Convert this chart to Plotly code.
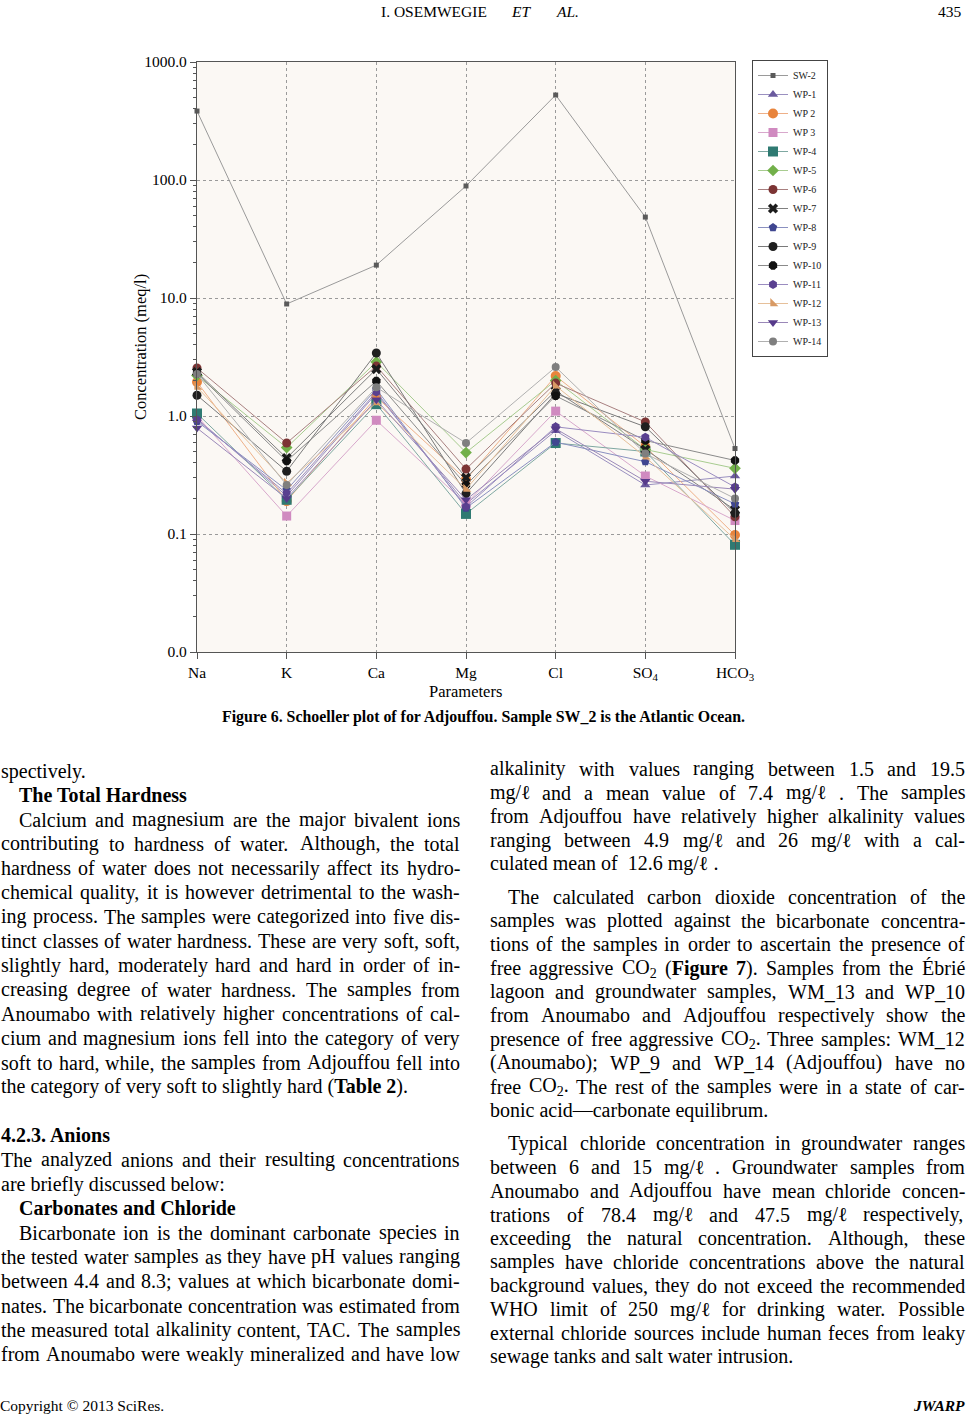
import re
import plotly.graph_objects as go

# ---------------- data ----------------
categories = ["Na", "K", "Ca", "Mg", "Cl", "SO<sub>4</sub>", "HCO<sub>3</sub>"]
series_names = ["SW-2", "WP-1", "WP 2", "WP 3", "WP-4", "WP-5", "WP-6", "WP-7",
                "WP-8", "WP-9", "WP-10", "WP-11", "WP-12", "WP-13", "WP-14"]
SW_2 = [384, 8.9, 19.0, 89, 525, 48.5, 0.53]
WP_1 = [0.95, 0.21, 1.55, 0.18, 0.75, 0.26, 0.31]
WP_2 = [1.94, 0.19, 1.45, 0.29, 2.18, 0.55, 0.098]
WP_3 = [1.00, 0.142, 0.92, 0.18, 1.10, 0.31, 0.13]
WP_4 = [1.05, 0.195, 1.26, 0.148, 0.59, 0.50, 0.081]
WP_5 = [2.20, 0.54, 2.87, 0.49, 2.00, 0.52, 0.36]
WP_6 = [2.55, 0.59, 2.65, 0.355, 1.90, 0.89, 0.14]
WP_7 = [2.36, 0.44, 2.50, 0.30, 1.63, 0.52, 0.16]
WP_8 = [0.90, 0.236, 1.69, 0.166, 0.60, 0.41, 0.18]
WP_9 = [1.50, 0.34, 3.42, 0.22, 1.55, 0.81, 0.15]
WP_10 = [2.30, 0.415, 1.98, 0.26, 1.48, 0.62, 0.42]
WP_11 = [0.93, 0.22, 1.60, 0.17, 0.81, 0.66, 0.25]
WP_12 = [1.76, 0.27, 1.30, 0.24, 1.80, 0.45, 0.09]
WP_13 = [0.79, 0.20, 1.37, 0.195, 0.78, 0.28, 0.24]
WP_14 = [2.27, 0.26, 1.75, 0.59, 2.60, 0.48, 0.20]
series_values = [SW_2, WP_1, WP_2, WP_3, WP_4, WP_5, WP_6, WP_7,
                 WP_8, WP_9, WP_10, WP_11, WP_12, WP_13, WP_14]
y_tick_values = [0.01, 0.1, 1, 10, 100, 1000]
y_tick_labels = ["0.0", "0.1", "1.0", "10.0", "100.0", "1000.0"]

# ---------------- styles ----------------
marker_colors = ["#5a5a5a", "#6a5a9e", "#e8843c", "#d08ac0", "#2f7a72", "#72b04a",
                 "#7c3434", "#1c1c1c", "#3f4690", "#1f1f1f", "#111111", "#5a4090",
                 "#d89a64", "#563a8a", "#7f7f7f"]
line_colors = ["#9a9a9a", "#9a90c0", "#eeb088", "#d8a8cc", "#7fa8a2", "#a8cc90",
               "#a88080", "#808080", "#8a90c0", "#7a7a7a", "#8a8a8a", "#9a8cc0",
               "#e6c09a", "#9a88b8", "#b0b0b0"]
symbols = ["square", "triangle-up", "circle", "square", "square", "diamond", "circle",
           "x", "pentagon", "circle", "octagon", "hexagon", "triangle-sw",
           "triangle-down", "circle"]
sizes = [5, 9, 10, 9, 10, 9, 9, 9, 9, 9, 9, 9, 9, 9, 8]

W, H = 967, 1414
def px(x):
    return x / W
def py(y):
    return 1 - y / H

fig = go.Figure()
for name, vals, mc, lc, sym, sz in zip(series_names, series_values, marker_colors,
                                       line_colors, symbols, sizes):
    fig.add_trace(go.Scatter(
        x=categories, y=vals, name=name, mode="lines+markers",
        line=dict(color=lc, width=1),
        marker=dict(symbol=sym, size=sz, color=mc, line=dict(width=0)),
        cliponaxis=False,
    ))

SERIF = "Liberation Serif"
axis_col = "#555555"
fig.update_layout(
    width=W, height=H, autosize=False,
    margin=dict(l=0, r=0, t=0, b=0, pad=0, autoexpand=False),
    paper_bgcolor="white", plot_bgcolor="#fbf8f4",
    font=dict(family=SERIF, color="black"),
    xaxis=dict(
        type="category", categoryorder="array", categoryarray=categories,
        range=[0, 6], domain=[px(197), px(735)], automargin=False,
        showline=True, linecolor=axis_col, linewidth=1.3, mirror=True,
        ticks="outside", ticklen=6, tickcolor=axis_col,
        showgrid=True, gridcolor="#9a9a9a", griddash="dot", gridwidth=1,
        tickfont=dict(family=SERIF, size=15.5, color="black"), zeroline=False,
    ),
    yaxis=dict(
        type="log", range=[-2, 3], domain=[py(652), py(62)], automargin=False,
        tickvals=y_tick_values, ticktext=y_tick_labels,
        showline=True, linecolor=axis_col, linewidth=1.3, mirror=True,
        ticks="outside", ticklen=6, tickcolor=axis_col,
        minor=dict(ticks="outside", ticklen=3, tickcolor=axis_col, showgrid=False,
                   tickmode="array",
                   tickvals=[m * 10 ** e for e in range(-2, 3) for m in range(2, 10)]),
        showgrid=True, gridcolor="#9a9a9a", griddash="dot", gridwidth=1,
        tickfont=dict(family=SERIF, size=15.5, color="black"), zeroline=False,
    ),
    legend=dict(
        x=px(752), y=py(60), xanchor="left", yanchor="top",
        bgcolor="white", bordercolor="#444", borderwidth=1,
        font=dict(family=SERIF, size=10, color="#222"),
        itemwidth=30, tracegroupgap=0,
    ),
)

annotations = []
def ann(text, x, y, size=20, xanchor="left", **kw):
    annotations.append(dict(text=text, x=px(x), y=py(y), xref="paper", yref="paper",
                            showarrow=False, xanchor=xanchor, yanchor="middle",
                            borderpad=0, borderwidth=0,
                            font=dict(family=SERIF, size=size, color="black"), **kw))

# axis titles
ann("Concentration (meq/l)", 140, 347, size=16.5, xanchor="center", textangle=-90)
ann("Parameters", 465, 691, size=16.5, xanchor="center")

# header / caption / footer
ann("I. OSEMWEGIE", 434, 12, size=15.5, xanchor="center")
ann("<i>ET</i>", 521, 12, size=15.5, xanchor="center")
ann("<i>AL.</i>", 567, 12, size=15.5, xanchor="center")
ann("435", 962, 12, size=15.5, xanchor="right")
ann("<b>Figure 6. Schoeller plot of for Adjouffou. Sample SW_2 is the Atlantic Ocean.</b>",
    483, 717, size=15.9, xanchor="center")
ann("Copyright © 2013 SciRes.", 0, 1405, size=15.5)
ann("<b><i>JWARP</i></b>", 965, 1405, size=15.5, xanchor="right")

# ---- justified body text ----
TW = {' ': 250, '!': 333, '(': 333, ')': 333, ',': 250, '-': 333, '.': 250, '/': 278,
      ':': 278, ';': 278, '_': 500, '—': 1000, 'ℓ': 420, 'É': 611, 'é': 444, '©': 760}
for c in "0123456789":
    TW[c] = 500
TW.update(dict(zip("abcdefghijklmnopqrstuvwxyz",
                   [444, 500, 444, 500, 444, 333, 500, 500, 278, 278, 500, 278, 778,
                    500, 500, 500, 500, 333, 389, 278, 500, 500, 722, 500, 500, 444])))
TW.update(dict(zip("ABCDEFGHIJKLMNOPQRSTUVWXYZ",
                   [722, 667, 667, 722, 611, 556, 722, 722, 333, 389, 722, 611, 889,
                    722, 722, 556, 722, 667, 556, 611, 722, 722, 944, 722, 722, 611])))

def word_width(w, size):
    total = 0.0
    bold = sub = False
    for tok in re.split(r'(<[^>]+>)', w):
        if tok.startswith('<'):
            bold = {'<b>': True, '</b>': False}.get(tok, bold)
            sub = {'<sub>': True, '</sub>': False}.get(tok, sub)
            continue
        for ch in tok:
            cw = TW.get(ch, 500)
            if bold:
                cw *= 1.07
            if sub:
                cw *= 0.7
            total += cw
    return total * size / 1000.0

BODY = 20
def place_line(text, x0, x1, y, justify):
    if not justify:
        ann(text, x0, y, size=BODY)
        return
    words = text.split(' ')
    ws = [word_width(w, BODY) for w in words]
    gap = (x1 - x0 - sum(ws)) / (len(words) - 1)
    x = x0
    for w, wd in zip(words, ws):
        ann(w, x, y, size=BODY)
        x += wd + gap

IND = 18
left_lines = [
    ("spectively.", 0, False, 0),
    ("<b>The Total Hardness</b>", IND, False, 0),
    ("Calcium and magnesium are the major bivalent ions", IND, True, 0),
    ("contributing to hardness of water. Although, the total", 0, True, 0),
    ("hardness of water does not necessarily affect its hydro-", 0, True, 0),
    ("chemical quality, it is however detrimental to the wash-", 0, True, 0),
    ("ing process. The samples were categorized into five dis-", 0, True, 0),
    ("tinct classes of water hardness. These are very soft, soft,", 0, True, 0),
    ("slightly hard, moderately hard and hard in order of in-", 0, True, 0),
    ("creasing degree of water hardness. The samples from", 0, True, 0),
    ("Anoumabo with relatively higher concentrations of cal-", 0, True, 0),
    ("cium and magnesium ions fell into the category of very", 0, True, 0),
    ("soft to hard, while, the samples from Adjouffou fell into", 0, True, 0),
    ("the category of very soft to slightly hard (<b>Table 2</b>).", 0, False, 0),
    ("<b>4.2.3. Anions</b>", 0, False, 1),
    ("The analyzed anions and their resulting concentrations", 0, True, 0),
    ("are briefly discussed below:", 0, False, 0),
    ("<b>Carbonates and Chloride</b>", IND, False, 0),
    ("Bicarbonate ion is the dominant carbonate species in", IND, True, 0),
    ("the tested water samples as they have pH values ranging", 0, True, 0),
    ("between 4.4 and 8.3; values at which bicarbonate domi-", 0, True, 0),
    ("nates. The bicarbonate concentration was estimated from", 0, True, 0),
    ("the measured total alkalinity content, TAC. The samples", 0, True, 0),
    ("from Anoumabo were weakly mineralized and have low", 0, True, 0),
]
right_lines = [
    ("alkalinity with values ranging between 1.5 and 19.5", 0, True, 0),
    ("mg/ℓ and a mean value of 7.4 mg/ℓ . The samples", 0, True, 0),
    ("from Adjouffou have relatively higher alkalinity values", 0, True, 0),
    ("ranging between 4.9 mg/ℓ and 26 mg/ℓ with a cal-", 0, True, 0),
    ("culated mean of  12.6 mg/ℓ .", 0, False, 0),
    ("The calculated carbon dioxide concentration of the", IND, True, 0.4),
    ("samples was plotted against the bicarbonate concentra-", 0, True, 0),
    ("tions of the samples in order to ascertain the presence of", 0, True, 0),
    ("free aggressive CO<sub>2</sub> (<b>Figure</b> <b>7</b>). Samples from the Ébrié", 0, True, 0),
    ("lagoon and groundwater samples, WM_13 and WP_10", 0, True, 0),
    ("from Anoumabo and Adjouffou respectively show the", 0, True, 0),
    ("presence of free aggressive CO<sub>2</sub>. Three samples: WM_12", 0, True, 0),
    ("(Anoumabo); WP_9 and WP_14 (Adjouffou) have no", 0, True, 0),
    ("free CO<sub>2</sub>. The rest of the samples were in a state of car-", 0, True, 0),
    ("bonic acid—carbonate equilibrum.", 0, False, 0),
    ("Typical chloride concentration in groundwater ranges", IND, True, 0.4),
    ("between 6 and 15 mg/ℓ . Groundwater samples from", 0, True, 0),
    ("Anoumabo and Adjouffou have mean chloride concen-", 0, True, 0),
    ("trations of 78.4 mg/ℓ and 47.5 mg/ℓ respectively,", 0, True, 0),
    ("exceeding the natural concentration. Although, these", 0, True, 0),
    ("samples have chloride concentrations above the natural", 0, True, 0),
    ("background values, they do not exceed the recommended", 0, True, 0),
    ("WHO limit of 250 mg/ℓ for drinking water. Possible", 0, True, 0),
    ("external chloride sources include human feces from leaky", 0, True, 0),
    ("sewage tanks and salt water intrusion.", 0, False, 0),
]

def place_column(lines, x0, x1, y0, step):
    y = y0
    for i, (text, indent, just, extra) in enumerate(lines):
        if i > 0:
            y += step * (1 + extra)
        place_line(text, x0 + indent, x1, y, just)

place_column(left_lines, 1, 460, 771, 24.3)
place_column(right_lines, 490, 965, 769, 23.7)

fig.update_layout(annotations=annotations)
fig.write_html(
    "out.html",
    config={"displayModeBar": False, "responsive": False},
    post_script=("document.body.style.margin='0';"
                 "document.body.style.overflow='hidden';"
                 "document.documentElement.style.overflow='hidden';"),
)
